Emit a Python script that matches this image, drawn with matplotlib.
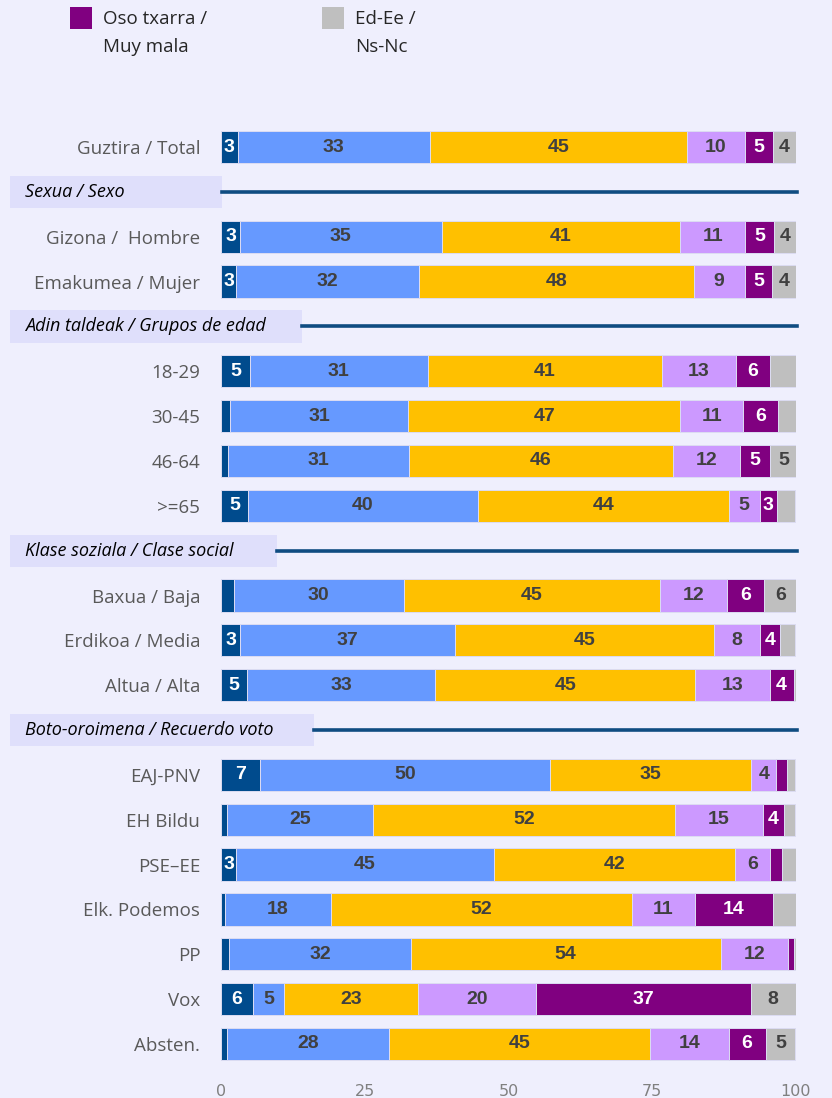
import matplotlib
matplotlib.use("Agg")
import matplotlib.pyplot as plt
from matplotlib.patches import Rectangle
from matplotlib.transforms import blended_transform_factory

# Rows (categories) and the group header each row sits under (None = no header)
CATEGORIES = [
    "Guztira / Total",
    "Gizona /  Hombre", "Emakumea / Mujer",
    "18-29", "30-45", "46-64", ">=65",
    "Baxua / Baja", "Erdikoa / Media", "Altua / Alta",
    "EAJ-PNV", "EH Bildu", "PSE\u2013EE", "Elk. Podemos", "PP", "Vox", "Absten.",
]
GROUPS = [
    "Sexua / Sexo",
    "Adin taldeak / Grupos de edad",
    "Klase soziala / Clase social",
    "Boto-oroimena / Recuerdo voto",
]
CATEGORY_GROUP = [None, 0, 0, 1, 1, 1, 1, 2, 2, 2, 3, 3, 3, 3, 3, 3, 3]

SERIES = ["Oso ona / Muy buena", "Ona / Buena", "Erdipurdikoa / Regular",
          "Txarra / Mala", "Oso txarra /\nMuy mala", "Ed-Ee /\nNs-Nc"]
very_good = [2.9, 3.3, 2.6, 5.0, 1.6, 1.3, 4.7, 2.2, 3.3, 4.6, 6.8, 1.1, 2.6, 0.7, 1.4, 5.6, 1.0]
good = [33.4, 35.1, 31.8, 31.0, 30.9, 31.4, 40.0, 29.6, 37.4, 32.7, 50.4, 25.4, 44.8, 18.4, 31.6, 5.3, 28.2]
fair = [44.7, 41.4, 47.8, 40.7, 47.4, 45.9, 43.6, 44.6, 45.1, 45.1, 35.0, 52.4, 42.0, 52.3, 53.9, 23.4, 45.4]
bad = [10.1, 11.4, 8.9, 12.9, 10.9, 11.6, 5.4, 11.6, 7.9, 13.0, 4.4, 15.4, 6.0, 11.0, 11.7, 20.4, 13.7]
very_bad = [4.9, 5.0, 4.8, 5.9, 6.1, 5.2, 3.0, 6.4, 3.6, 4.2, 1.8, 3.6, 2.2, 13.6, 1.0, 37.4, 6.4]
no_answer = [4.0, 3.8, 4.1, 4.5, 3.1, 4.8, 3.2, 5.7, 2.6, 0.6, 1.5, 1.9, 2.4, 4.0, 0.5, 7.9, 5.2]

# segments whose value label is left off in the original
HIDDEN_LABELS = {("18-29", 5), ("30-45", 5), (">=65", 5), ("Erdikoa / Media", 5), ("Elk. Podemos", 5)}
LEGEND_SERIES = [4, 5]

COLORS = ["#004b8d", "#6699ff", "#ffc000", "#cc99ff", "#800080", "#bfbfbf"]
TEXT_ON = ["white", "#404040", "#404040", "#404040", "white", "#404040"]
BG = "#efeffd"
HEADER_BOX = "#dfdffb"
HEADER_LINE = "#0f4c81"
LABEL_GREY = "#595959"

W, H = 832, 1098
fig = plt.figure(figsize=(W / 100, H / 100), dpi=100, facecolor=BG)


def fx(px):
    return px / W


def fy(py):
    return 1 - py / H


# axes spans 0..100 between x=221 and x=796 px; rows 44.85 px apart, first at y=147
row_px = 44.85
top_px = 147 - 0.5 * row_px
n_slots = len(CATEGORIES) + len(GROUPS)
bot_px = top_px + n_slots * row_px
ax = fig.add_axes([fx(221), fy(bot_px), fx(796) - fx(221), (bot_px - top_px) / H])
ax.set_facecolor(BG)

# y positions: headers take their own slot
ypos, header_pos = [], {}
slot, prev = 0, None
for g in CATEGORY_GROUP:
    if g is not None and g != prev:
        header_pos[g] = slot
        slot += 1
    ypos.append(slot)
    slot += 1
    prev = g

data = [very_good, good, fair, bad, very_bad, no_answer]
left = [0.0] * len(CATEGORIES)
for s, vals in enumerate(data):
    ax.barh(ypos, vals, left=left, height=0.72, color=COLORS[s],
            edgecolor="#dcdcf2", linewidth=0.7, zorder=2)
    for i, v in enumerate(vals):
        if v >= 2.5 and (CATEGORIES[i], s) not in HIDDEN_LABELS:
            ax.text(left[i] + v / 2, ypos[i], f"{round(v)}", ha="center", va="center",
                    fontsize=14, fontweight="bold", color=TEXT_ON[s],
                    family="Liberation Sans", zorder=3)
    left = [l + v for l, v in zip(left, vals)]

ax.set_xlim(0, 100)
ax.set_ylim(n_slots - 0.5, -0.5)
ax.set_yticks(ypos)
ax.set_yticklabels(CATEGORIES, fontsize=13.5, color=LABEL_GREY, family="Open Sans")
ax.set_xticks([0, 25, 50, 75, 100])
ax.tick_params(axis="x", length=0, pad=13, labelsize=11.5, labelcolor="#808080")
ax.tick_params(axis="y", length=0, pad=15)
for sp in ax.spines.values():
    sp.set_visible(False)

# group headers: shaded box with italic title, then a rule to the right edge
trans = blended_transform_factory(fig.transFigure, ax.transData)
box_right = [222, 302, 277, 314]
for g, title in enumerate(GROUPS):
    y = header_pos[g]
    ax.add_patch(Rectangle((fx(10), y - 0.36), fx(box_right[g]) - fx(10), 0.72,
                           transform=trans, facecolor=HEADER_BOX, edgecolor="none",
                           clip_on=False, zorder=1))
    ax.text(fx(25), y, title, transform=trans, ha="left", va="center",
            fontsize=13, style="italic", color="black", family="Open Sans")
    ax.plot([fx(box_right[g]), fx(797)], [y, y], transform=trans, color=HEADER_LINE,
            linewidth=2.6, clip_on=False, zorder=1)

# legend (only two entries are visible in the source)
leg_x = [70, 322]
for k, s in enumerate(LEGEND_SERIES):
    fig.patches.append(Rectangle((fx(leg_x[k]), fy(29)), fx(22), 22 / H,
                                 transform=fig.transFigure, facecolor=COLORS[s],
                                 edgecolor="none"))
    fig.text(fx(leg_x[k] + 33), fy(10), SERIES[s], ha="left", va="top",
             fontsize=13.5, color="#262626", family="Open Sans", linespacing=1.75)

fig.savefig("out.png", dpi=100, facecolor=BG)
